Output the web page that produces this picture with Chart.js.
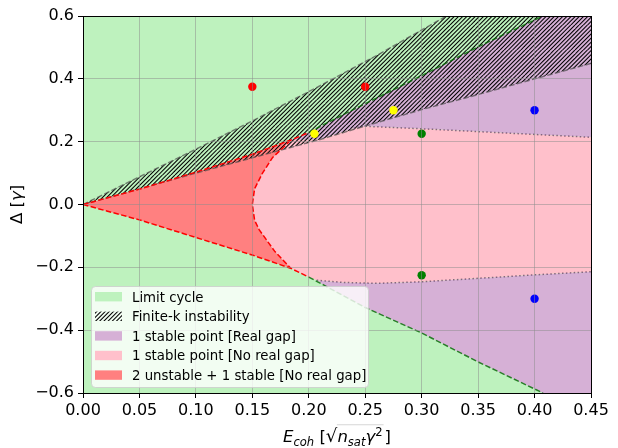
<!DOCTYPE html>
<html>
<head>
<meta charset="utf-8">
<script src="https://cdn.jsdelivr.net/npm/chart.js@4.4.0/dist/chart.umd.min.js"></script>
<style>
  html, body { margin: 0; padding: 0; background: #fff; }
  #wrap { width: 618px; height: 448px; }
</style>
</head>
<body>
<div id="wrap"><canvas id="phase" width="618" height="448"></canvas></div>
<script>
// axis limits and ticks
const xLim = [0, 0.45];
const yLim = [-0.6, 0.6];
const xTicks = [0, 0.05, 0.10, 0.15, 0.20, 0.25, 0.30, 0.35, 0.40, 0.45];
const yTicks = [-0.6, -0.4, -0.2, 0, 0.2, 0.4, 0.6];

// limit-cycle boundary, upper and lower branch (E_coh -> Delta)
const gE  = [0, 0.05, 0.10, 0.15, 0.184, 0.20, 0.213, 0.25, 0.30, 0.35, 0.4075];
const gUp = [0, 0.049, 0.103, 0.160, 0.205, 0.229, 0.254, 0.321, 0.410, 0.502, 0.600];
const gLo = [0, -0.049, -0.105, -0.161, -0.203, -0.231, -0.256, -0.328, -0.409, -0.501, -0.600];
const gSplit = 5; // red dashes up to here, green dashes beyond

// right edge of the 2-unstable region (Delta -> E_coh)
const cuspD = [0.205, 0.18, 0.15, 0.10, 0.05, 0, -0.05, -0.08, -0.15, -0.203];
const cuspE = [0.184, 0.177, 0.168, 0.159, 0.152, 0.150, 0.152, 0.156, 0.170, 0.184];

// finite-k instability band
const uE = [0, 0.10, 0.15, 0.21, 0.26, 0.322];
const uD = [0, 0.176, 0.266, 0.378, 0.474, 0.600];
const lE = [0, 0.10, 0.175, 0.21, 0.25, 0.30, 0.35, 0.40, 0.45];
const lD = [0, 0.10, 0.173, 0.207, 0.25, 0.302, 0.35, 0.40, 0.449];

// real gap / no real gap boundary
const hUpE = [0.24, 0.25, 0.30, 0.35, 0.40, 0.45];
const hUp  = [0.243, 0.249, 0.241, 0.232, 0.223, 0.214];
const hLoE = [0.207, 0.23, 0.26, 0.30, 0.35, 0.40, 0.45];
const hLo  = [-0.241, -0.248, -0.251, -0.246, -0.235, -0.224, -0.214];

// sample points
const ptE = [0.15, 0.25, 0.205, 0.275, 0.30, 0.30, 0.40, 0.40];
const ptD = [0.375, 0.375, 0.225, 0.30, 0.225, -0.225, 0.30, -0.30];
const ptColor = ['#ff0000', '#ff0000', '#ffff00', '#ffff00', '#008000', '#008000', '#0000ff', '#0000ff'];

const legendLabels = ['Limit cycle', 'Finite-k instability', '1 stable point [Real gap]',
  '1 stable point [No real gap]', '2 unstable + 1 stable [No real gap]'];

const C = {
  green: 'rgb(190,242,190)',
  purple: 'rgb(214,176,214)',
  pink: 'rgb(255,192,203)',
  red: 'rgb(255,128,128)'
};

const pts = (xs, ys) => xs.map((x, i) => ({ x, y: ys[i] }));
const rev = a => a.slice().reverse();

function makeHatch() {
  const size = 25, step = size / 6;
  const c = document.createElement('canvas');
  c.width = size; c.height = size;
  const g = c.getContext('2d');
  g.strokeStyle = '#000';
  g.lineWidth = 1.05;
  for (let k = -2; k <= 14; k++) {
    const o = k * step;
    g.beginPath();
    g.moveTo(o, 0);
    g.lineTo(o - size, size);
    g.stroke();
  }
  return g.createPattern(c, 'repeat');
}
const hatch = makeHatch();

// polygons
const limitPoly = [
  { x: xLim[0], y: yLim[0] }, { x: xLim[1], y: yLim[0] },
  { x: xLim[1], y: yLim[1] }, { x: xLim[0], y: yLim[1] }
];
const gUpPts = pts(gE, gUp), gLoPts = pts(gE, gLo);
const cuspPts = pts(cuspE, cuspD);
const lPts = pts(lE, lD);

const purpleUpPoly = [
  ...gUpPts.slice(4),
  { x: xLim[1], y: yLim[1] },
  ...rev(pts(hUpE, hUp)),
  lPts[3],
  gUpPts[4]
];
const purpleLoPoly = [
  ...gLoPts.slice(6),
  { x: xLim[1], y: yLim[0] },
  ...rev(pts(hLoE, hLo))
];
const pinkPoly = [
  gUpPts[4], lPts[3],
  ...pts(hUpE, hUp),
  ...rev(pts(hLoE, hLo)),
  gLoPts[5], gLoPts[4],
  ...rev(cuspPts)
];
const redPoly = [
  ...gUpPts.slice(0, 5),
  ...cuspPts,
  ...rev(gLoPts.slice(0, 5))
];
const hatchPoly = [
  ...pts(uE, uD),
  { x: xLim[1], y: yLim[1] },
  ...rev(lPts)
];

const region = (data, color, order) => ({
  data, showLine: true, fill: 'shape', backgroundColor: color,
  borderWidth: 0, pointRadius: 0, order
});
const curve = (data, color, dash, order, width = 1.5) => ({
  data, showLine: true, fill: false, borderColor: color, borderWidth: width,
  borderDash: dash, pointRadius: 0, order
});

const dash = [5.5, 2.4];
const datasets = [
  region(limitPoly, C.green, 20),
  region(purpleUpPoly, C.purple, 19),
  region(purpleLoPoly, C.purple, 19),
  region(pinkPoly, C.pink, 18),
  region(redPoly, C.red, 17),
  region(hatchPoly, hatch, 16),
  curve(pts(uE, uD), 'rgba(70,70,70,0.65)', dash, 10),
  curve(lPts, 'rgba(70,70,70,0.65)', dash, 10),
  curve(pts(hUpE, hUp), 'rgba(100,70,100,0.75)', [1.5, 2.4], 9),
  curve(pts(hLoE, hLo), 'rgba(100,70,100,0.75)', [1.5, 2.4], 9),
  curve(gUpPts.slice(gSplit), 'rgba(0,105,0,0.8)', dash, 8),
  curve(gLoPts.slice(gSplit), 'rgba(0,105,0,0.8)', dash, 8),
  curve(gUpPts.slice(0, gSplit + 1), '#ff0000', dash, 7),
  curve(gLoPts.slice(0, gSplit + 1), '#ff0000', dash, 7),
  curve(cuspPts, '#ff0000', dash, 7),
  {
    data: pts(ptE, ptD), showLine: false, pointRadius: 4.2, pointBorderWidth: 0,
    pointBackgroundColor: ptColor, order: 1
  }
];

const FONT = 'DejaVu Sans';
const fmt = (v, d) => v.toFixed(d).replace('-', '\u2212');
const align = (p, w) => Math.round(p - w / 2) + w / 2;

function drawRuns(ctx, runs, x0, y0) {
  let w = 0;
  for (const r of runs) {
    ctx.font = r.font;
    r.w = ctx.measureText(r.text).width;
    w += r.w + (r.gap || 0);
  }
  let x = x0 - w / 2;
  for (const r of runs) {
    ctx.font = r.font;
    ctx.fillText(r.text, x, y0 + (r.dy || 0));
    r.x = x;
    x += r.w + (r.gap || 0);
  }
  return runs;
}

const decor = {
  id: 'decor',
  afterDraw(chart) {
    const { ctx, chartArea: a } = chart;
    ctx.save();
    // frame
    ctx.strokeStyle = '#000';
    ctx.lineWidth = 1;
    const L = align(a.left, 1), R = align(a.right, 1), T = align(a.top, 1), B = align(a.bottom, 1);
    ctx.strokeRect(L, T, R - L, B - T);

    // legend box
    const bx = 91, by = 286, bw = 277, bh = 101;
    ctx.beginPath();
    ctx.roundRect(bx + 0.5, by + 0.5, bw, bh, 4);
    ctx.fillStyle = 'rgba(255,255,255,0.8)';
    ctx.fill();
    ctx.strokeStyle = 'rgba(204,204,204,0.8)';
    ctx.stroke();
    const swatch = [C.green, hatch, C.purple, C.pink, C.red];
    ctx.font = `13.3px "${FONT}"`;
    ctx.textBaseline = 'alphabetic';
    legendLabels.forEach((t, i) => {
      const cy = 296.7 + i * 19.6;
      ctx.fillStyle = swatch[i];
      ctx.fillRect(95, cy - 4.7, 27, 9.4);
      ctx.fillStyle = '#000';
      ctx.fillText(t, 132, cy + 4.8);
    });

    // axis titles
    ctx.fillStyle = '#000';
    const fs = 16.5;
    const up = `${fs}px "${FONT}"`, it = `italic ${fs}px "${FONT}"`;
    const sub = `italic ${fs * 0.7}px "${FONT}"`, sup = `${fs * 0.7}px "${FONT}"`;
    const runs = drawRuns(ctx, [
      { text: 'E', font: it },
      { text: 'coh', font: sub, dy: 3.5 },
      { text: ' [', font: up },
      { text: '\u221A', font: `${fs * 1.1}px "${FONT}"` },
      { text: 'n', font: it },
      { text: 'sat', font: sub, dy: 3.5 },
      { text: '\u03B3', font: it },
      { text: '2', font: sup, dy: -6.5, gap: 2 },
      { text: ']', font: up }
    ], (a.left + a.right) / 2, 442);
    ctx.beginPath();
    ctx.lineWidth = 1;
    const barY = 442 - fs * 1.1 * 0.95;
    ctx.moveTo(runs[3].x + runs[3].w - 0.5, barY);
    ctx.lineTo(runs[7].x + runs[7].w + 1, barY);
    ctx.stroke();

    ctx.translate(22, (a.top + a.bottom) / 2);
    ctx.rotate(-Math.PI / 2);
    drawRuns(ctx, [
      { text: '\u0394 [', font: up },
      { text: '\u03B3', font: it },
      { text: ']', font: up }
    ], 0, 0);
    ctx.restore();
  }
};

const gridColor = 'rgba(140,140,140,0.5)';
new Chart(document.getElementById('phase'), {
  type: 'scatter',
  data: { datasets },
  options: {
    responsive: false,
    animation: false,
    devicePixelRatio: 1,
    events: [],
    layout: { padding: { top: 16, right: 27, left: 0, bottom: 0 } },
    plugins: { legend: { display: false }, tooltip: { enabled: false } },
    scales: {
      x: {
        type: 'linear', min: xLim[0], max: xLim[1],
        afterFit: s => { s.height = 55; },
        afterBuildTicks: s => { s.ticks = xTicks.map(v => ({ value: v })); },
        ticks: { callback: v => fmt(v, 2), font: { family: FONT, size: 16 }, color: '#000', padding: 3, maxRotation: 0, autoSkip: false },
        grid: { color: gridColor, lineWidth: 1, tickColor: '#000', tickLength: 5, z: 1 },
        border: { display: false }
      },
      y: {
        type: 'linear', min: yLim[0], max: yLim[1],
        afterFit: s => { s.width = 83; },
        afterBuildTicks: s => { s.ticks = yTicks.map(v => ({ value: v })); },
        ticks: { callback: v => fmt(v, 1), font: { family: FONT, size: 16 }, color: '#000', padding: 4, autoSkip: false },
        grid: { color: gridColor, lineWidth: 1, tickColor: '#000', tickLength: 5, z: 1 },
        border: { display: false }
      }
    }
  },
  plugins: [decor]
});
</script>
</body>
</html>
